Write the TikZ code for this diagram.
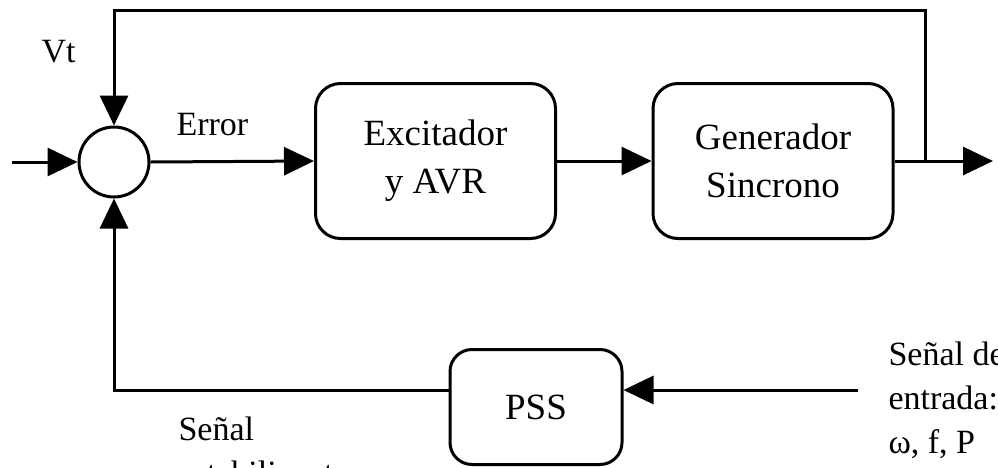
\documentclass[tikz,border=0pt]{standalone}
\usepackage{fontspec}
\setmainfont{Liberation Serif}
\usetikzlibrary{arrows.meta}
\begin{document}
\begin{tikzpicture}[x=1pt,y=-1pt, line width=3pt,
  arr/.style={-{Triangle[length=30pt,width=28pt]}},
  blk/.style={draw, rounded corners=25pt, minimum width=240pt, minimum height=155pt, align=center, font=\fontsize{37}{48}\selectfont, inner sep=0pt},
  lbl/.style={font=\fontsize{34}{44}\selectfont, inner sep=0pt, align=left}]
\clip (0,0) rectangle (998,467);
\fill[white] (0,0) rectangle (998,467);
\node[draw, circle, minimum size=70pt, inner sep=0pt] (sum) at (114,162) {};
\node[blk] (exc) at (435.5,161) {Excitador\\y AVR};
\node[blk] (gen) at (773,161) {Generador\\Sincrono};
\node[blk, minimum width=172pt, minimum height=115pt, rounded corners=22pt] (pss) at (536,407) {PSS};
\coordinate (in) at (12,162);
\draw[arr] (in) -- (sum.west);
\draw[arr] (sum.east) -- (exc.west);
\draw[arr] (exc.east) -- (gen.west);
\coordinate (out) at (993,161);
\draw[arr] (gen.east) -- (out);
\coordinate (br) at (925,161);
\coordinate (top) at (925,10);
\draw[arr] (br) -- (top) -| (sum.north);
\coordinate (sig) at (858,390);
\draw[arr] (sig) -- (sig -| pss.east);
\draw[arr] (pss.west |- sig) -| (sum.south);
\node[lbl, anchor=base west] (vt) at (40,62) {Vt};
\node[lbl, anchor=base west] (err) at (175,135) {Error};
\node[lbl, anchor=base west] (sen) at (887,453) {Señal de\\entrada:\\ω, f, P};
\node[lbl, anchor=base west] (est) at (177,484) {Señal\\estabilizante};
\end{tikzpicture}
\end{document}
